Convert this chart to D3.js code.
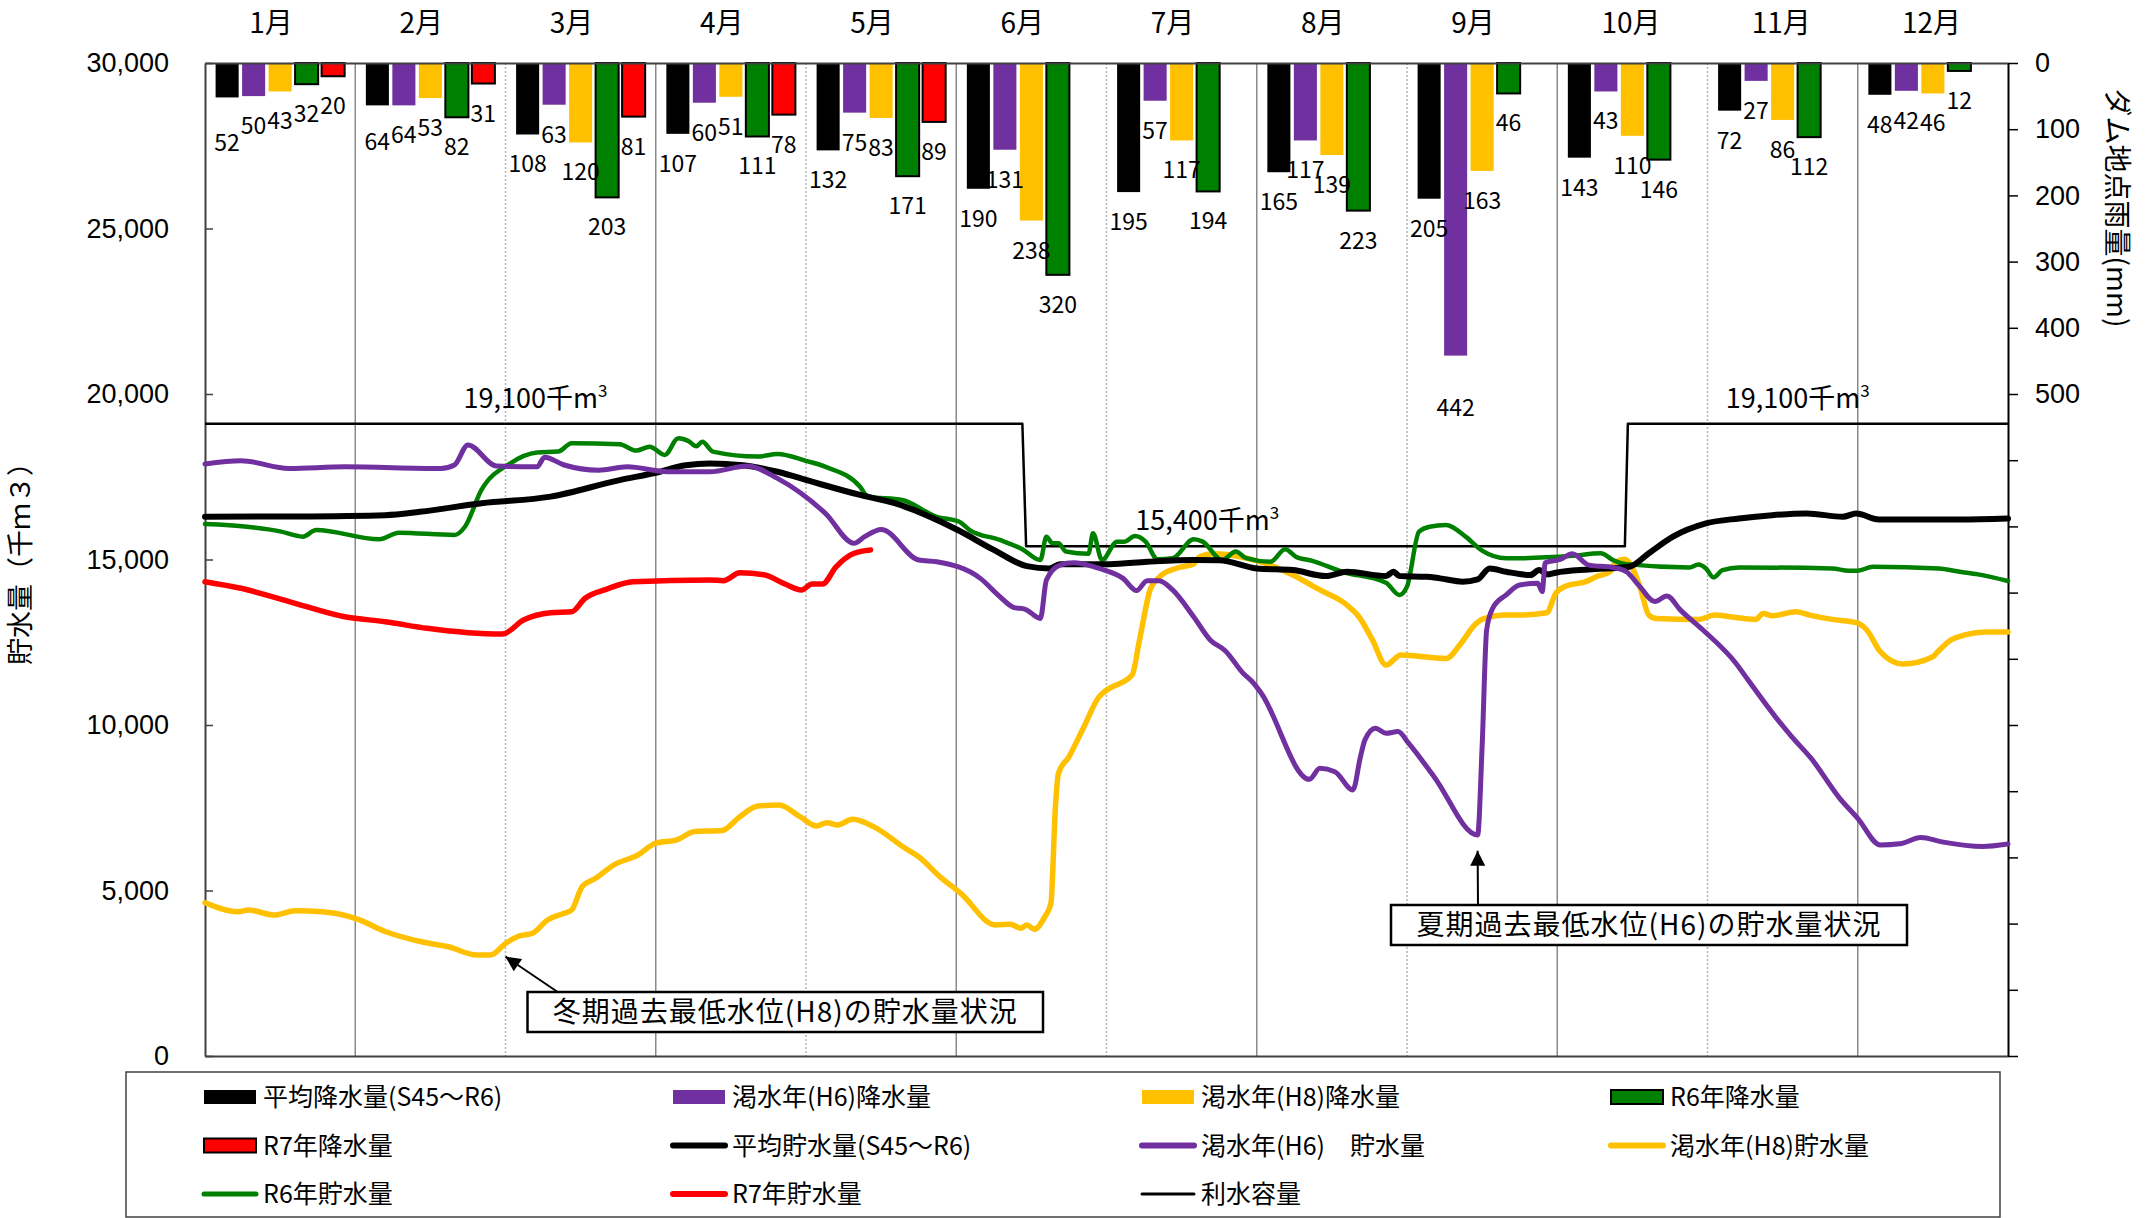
<!DOCTYPE html>
<html><head><meta charset="utf-8">
<script src="https://cdn.jsdelivr.net/npm/d3@7"></script>
<style>
body{margin:0;background:#fff;}
svg{display:block;font-family:"Noto Sans CJK JP","Noto Sans",sans-serif;}
</style></head><body>
<svg id="c" width="2156" height="1218"></svg>
<script>
// ---------------- data ----------------
const months = ["1月","2月","3月","4月","5月","6月","7月","8月","9月","10月","11月","12月"];
const rainNames = ["平均降水量(S45～R6)","渇水年(H6)降水量","渇水年(H8)降水量","R6年降水量","R7年降水量"];
const rainAvg = [52,64,108,107,132,190,195,165,205,143,72,48];
const rainH6  = [50,64,63,60,75,131,57,117,442,43,27,42];
const rainH8  = [43,53,120,51,83,238,117,139,163,110,86,46];
const rainR6  = [32,82,203,111,171,320,194,223,46,146,112,12];
const rainR7  = [20,31,81,78,89,null,null,null,null,null,null,null];

// storage series: [month position (0 = 1 Jan, 12 = 31 Dec), 千m3]
const storAvg = [[0,16290],[0.6,16300],[1.2,16340],[1.43,16440],[1.84,16700],[2.3,16900],[2.76,17400],[3.0,17620],[3.2,17850],[3.36,17900],[3.58,17850],[3.81,17650],[4.04,17350],[4.36,16950],[4.59,16700],[5.01,15890],[5.25,15290],[5.47,14800],[5.62,14730],[5.69,14860],[6.02,14860],[6.27,14930],[6.58,14985],[6.75,14980],[7.0,14730],[7.24,14680],[7.46,14500],[7.6,14630],[7.86,14500],[7.91,14630],[7.95,14500],[8.13,14480],[8.22,14430],[8.37,14330],[8.47,14400],[8.55,14730],[8.66,14630],[8.82,14530],[8.88,14680],[8.94,14550],[8.99,14600],[9.21,14700],[9.48,14780],[9.61,15190],[9.77,15690],[9.99,16090],[10.21,16240],[10.43,16340],[10.66,16390],[10.9,16290],[10.99,16390],[11.14,16210],[11.68,16210],[12,16240]];
const storH6 = [[0,17885],[0.24,17985],[0.56,17750],[0.93,17800],[1.57,17750],[1.66,17855],[1.75,18460],[1.94,17825],[2.21,17800],[2.26,18090],[2.39,17855],[2.62,17700],[2.81,17800],[3.08,17650],[3.36,17650],[3.61,17825],[3.81,17450],[4.13,16390],[4.32,15490],[4.39,15690],[4.5,15910],[4.75,14985],[4.87,14930],[5.16,14430],[5.29,13880],[5.38,13555],[5.46,13495],[5.56,13220],[5.6,14380],[5.69,14830],[5.78,14900],[5.95,14730],[6.11,14430],[6.2,14060],[6.27,14360],[6.35,14360],[6.44,14080],[6.58,13270],[6.69,12570],[6.79,12245],[6.91,11560],[6.98,11260],[7.03,10960],[7.35,8360],[7.42,8690],[7.52,8590],[7.64,8040],[7.69,9040],[7.72,9550],[7.79,9900],[7.86,9750],[7.94,9800],[8.01,9450],[8.18,8440],[8.47,6680],[8.5,9345],[8.53,12870],[8.57,13525],[8.66,13930],[8.75,14230],[8.87,14280],[8.9,14030],[8.92,14900],[9.02,15005],[9.1,15170],[9.21,14830],[9.37,14760],[9.46,14630],[9.55,14180],[9.65,13730],[9.73,13900],[9.82,13470],[9.97,12870],[10.19,11860],[10.27,11360],[10.46,10200],[10.56,9650],[10.69,8990],[10.88,7785],[11.0,7180],[11.15,6375],[11.28,6410],[11.42,6600],[11.56,6470],[11.83,6330],[12,6405]];
const storH8 = [[0,4630],[0.22,4360],[0.29,4410],[0.46,4260],[0.6,4390],[0.78,4360],[1.02,4130],[1.2,3760],[1.44,3450],[1.62,3300],[1.81,3050],[1.9,3050],[2.0,3400],[2.09,3625],[2.18,3710],[2.28,4110],[2.39,4310],[2.44,4410],[2.51,5115],[2.6,5370],[2.72,5770],[2.88,6070],[3.0,6430],[3.14,6530],[3.26,6780],[3.44,6810],[3.56,7230],[3.68,7550],[3.82,7580],[3.96,7230],[4.07,6950],[4.14,7050],[4.21,6980],[4.31,7150],[4.45,6930],[4.66,6275],[4.75,6020],[4.89,5420],[5.03,4915],[5.26,3960],[5.36,3980],[5.43,3860],[5.47,3960],[5.52,3830],[5.59,4210],[5.63,4610],[5.66,7530],[5.68,8540],[5.75,9040],[5.85,9950],[5.95,10850],[6.0,11050],[6.17,11510],[6.22,12570],[6.29,14080],[6.35,14460],[6.46,14730],[6.58,14860],[6.62,15085],[6.71,15170],[6.8,15150],[6.93,15040],[7.09,14830],[7.24,14530],[7.42,14080],[7.6,13625],[7.68,13270],[7.77,12570],[7.86,11810],[7.96,12115],[8.26,12010],[8.36,12470],[8.45,13020],[8.5,13190],[8.66,13320],[8.75,13320],[8.93,13390],[8.99,13980],[9.06,14200],[9.19,14330],[9.26,14480],[9.35,14630],[9.39,14930],[9.45,15005],[9.49,14830],[9.55,14180],[9.61,13320],[9.66,13220],[9.94,13190],[10.05,13320],[10.15,13270],[10.32,13190],[10.37,13370],[10.43,13300],[10.59,13420],[10.68,13320],[10.83,13190],[10.99,13090],[11.06,12870],[11.15,12215],[11.3,11840],[11.5,12060],[11.53,12200],[11.61,12540],[11.72,12730],[11.85,12810],[12,12810]];
const storR6 = [[0,16070],[0.28,15990],[0.5,15850],[0.65,15690],[0.74,15890],[1.16,15610],[1.29,15810],[1.66,15740],[1.73,15990],[1.84,17100],[2.03,17900],[2.21,18230],[2.35,18260],[2.44,18510],[2.76,18480],[2.87,18290],[2.96,18410],[3.06,18160],[3.15,18660],[3.22,18570],[3.27,18420],[3.31,18560],[3.38,18260],[3.68,18110],[3.81,18190],[4.0,17980],[4.13,17800],[4.36,17200],[4.41,16900],[4.64,16800],[4.87,16290],[5.02,16140],[5.09,15890],[5.29,15590],[5.44,15310],[5.56,14985],[5.6,15690],[5.64,15490],[5.68,15490],[5.73,15240],[5.88,15170],[5.91,15790],[5.97,14985],[6.07,15540],[6.12,15540],[6.19,15710],[6.26,15540],[6.34,15005],[6.44,15040],[6.58,15610],[6.64,15540],[6.77,14985],[6.86,15240],[6.93,15040],[7.09,14930],[7.19,15310],[7.26,15085],[7.37,14960],[7.57,14630],[7.86,14300],[7.95,13930],[8.0,14180],[8.08,15840],[8.15,15990],[8.26,16040],[8.39,15690],[8.5,15270],[8.66,15040],[8.75,15040],[9.1,15110],[9.29,15190],[9.37,14985],[9.46,14860],[9.88,14760],[9.94,14850],[9.99,14730],[10.04,14460],[10.1,14680],[10.21,14760],[10.83,14730],[10.94,14660],[11.0,14660],[11.1,14780],[11.54,14730],[11.68,14630],[11.8,14550],[12,14350]];
const storR7 = [[0,14330],[0.24,14130],[0.56,13730],[0.93,13270],[1.2,13120],[1.48,12920],[1.75,12790],[1.98,12750],[2.12,13170],[2.3,13390],[2.44,13420],[2.53,13830],[2.67,14100],[2.85,14330],[3.36,14380],[3.45,14360],[3.56,14600],[3.72,14540],[3.86,14260],[3.97,14080],[4.04,14260],[4.11,14260],[4.2,14780],[4.32,15190],[4.43,15290]];
const capacity = [[0,19100],[5.44,19100],[5.465,15400],[9.45,15400],[9.47,19100],[12,19100]];
const capacityLabels = [{v:19100, t:2.2, text:"19,100"},{v:15400, t:6.67, text:"15,400"},{v:19100, t:10.6, text:"19,100"}];
const storageTicks = [0,5000,10000,15000,20000,25000,30000];
const rainTicks = [0,100,200,300,400,500,600,700,800,900,1000,1100,1200,1300,1400,1500];
const rainLabelMax = 500;

// ---------------- layout / style ----------------
const W = 2156, H = 1218;
const P = {left:205, right:2008, top:63, bottom:1056};
const C = {black:"#000000", purple:"#7030A0", yellow:"#FFC000", green:"#008000", red:"#FF0000", axis:"#404040"};
const rainColors = [C.black, C.purple, C.yellow, C.green, C.red];
const rainOutlined = [false,false,false,true,true];
const rainSeries = [rainAvg, rainH6, rainH8, rainR6, rainR7];

const svg = d3.select("#c");
svg.append("rect").attr("width",W).attr("height",H).attr("fill","#fff");

const x = d3.scaleLinear().domain([0,12]).range([P.left,P.right]);
const yL = d3.scaleLinear().domain([0,30000]).range([P.bottom,P.top]);
const yR = d3.scaleLinear().domain([0,1500]).range([P.top,P.bottom]);
const band = d3.scaleBand().domain(d3.range(5)).range([0, x(1)-x(0)]).paddingInner(0.13).paddingOuter(0.4);

// month grid lines
const grid = svg.append("g");
d3.range(1,12).forEach(i=>{
  grid.append("line").attr("x1",x(i)).attr("x2",x(i)).attr("y1",P.top).attr("y2",P.bottom)
    .attr("stroke", i%2 ? "#8a8a8a" : "#b4b4b4").attr("stroke-width", i%2 ? 1.5 : 1.5)
    .attr("stroke-dasharray", i%2 ? null : "2,2");
});

// bars
const bars = svg.append("g");
const labelNudge = {"0-0":16, "1-0":7, "8-1":22};
rainSeries.forEach((arr,s)=>{
  arr.forEach((v,m)=>{
    if(v==null) return;
    const bx = x(m)+band(s);
    bars.append("rect").attr("x",bx).attr("y",yR(0)).attr("width",band.bandwidth())
      .attr("height",yR(v)-yR(0)).attr("fill",rainColors[s])
      .attr("stroke", rainOutlined[s] ? "#000" : "none").attr("stroke-width",2);
  });
});
// bar labels
const blab = svg.append("g").attr("font-size",23).attr("text-anchor","middle").attr("fill","#000");
rainSeries.forEach((arr,s)=>{
  arr.forEach((v,m)=>{
    if(v==null) return;
    const nd = labelNudge[m+"-"+s]||0;
    blab.append("text").attr("x",x(m)+band(s)+band.bandwidth()/2).attr("y",yR(v)+38+nd).text(v);
  });
});

// axes
const axT = svg.append("g").attr("transform",`translate(0,${P.top})`)
  .call(d3.axisTop(x).tickValues([]).tickSizeOuter(0));
axT.select(".domain").attr("stroke",C.axis).attr("stroke-width",2);
const axB = svg.append("g").attr("transform",`translate(0,${P.bottom})`)
  .call(d3.axisBottom(x).tickValues([]).tickSizeOuter(0));
axB.select(".domain").attr("stroke",C.axis).attr("stroke-width",2);

const axL = svg.append("g").attr("transform",`translate(${P.left},0)`)
  .call(d3.axisLeft(yL).tickValues(storageTicks).tickFormat(d3.format(",")).tickSizeInner(-8).tickSizeOuter(0).tickPadding(36));
axL.select(".domain").attr("stroke",C.axis).attr("stroke-width",2);
axL.selectAll(".tick line").attr("stroke",C.axis).attr("stroke-width",1.5);
axL.selectAll("text").attr("font-size",27).attr("fill","#000").attr("font-family",null);

const axR = svg.append("g").attr("transform",`translate(${P.right},0)`)
  .call(d3.axisRight(yR).tickValues(rainTicks).tickFormat(d=>d<=rainLabelMax? d : "").tickSizeInner(10).tickSizeOuter(0).tickPadding(17));
axR.select(".domain").attr("stroke","#000").attr("stroke-width",2);
axR.selectAll(".tick line").attr("stroke","#000").attr("stroke-width",1.5);
axR.selectAll("text").attr("font-size",27).attr("fill","#000").attr("font-family",null);

// month labels
svg.append("g").attr("font-size",28).selectAll("text").data(months).join("text")
  .attr("x",(d,i)=>x(i+0.5)-31).attr("y",33).text(d=>d);

// axis titles
svg.append("text").attr("transform","translate(30,557) rotate(-90)").attr("text-anchor","middle")
  .attr("font-size",27).text("貯水量（千ｍ３）");
svg.append("text").attr("transform","translate(2107,208) rotate(90)").attr("text-anchor","middle")
  .attr("font-size",28).text("ダム地点雨量(mm)");

// lines
const line = d3.line().x(d=>x(d[0])).y(d=>yL(d[1])).curve(d3.curveMonotoneX);
const lines = svg.append("g").attr("fill","none").attr("stroke-linejoin","round").attr("stroke-linecap","round");
lines.append("path").datum(capacity).attr("d",d3.line().x(d=>x(d[0])).y(d=>yL(d[1])))
  .attr("stroke","#000").attr("stroke-width",2.5).attr("stroke-linecap","butt");
[[storH8,C.yellow,5.5],[storR6,C.green,4.5],[storR7,C.red,5.5],[storAvg,C.black,6],[storH6,C.purple,5]].forEach(([d,c,w])=>{
  lines.append("path").datum(d).attr("d",line).attr("stroke",c).attr("stroke-width",w);
});

// capacity labels
capacityLabels.forEach(c=>{
  const t = svg.append("text").attr("x",x(c.t)).attr("y",yL(c.v)-16).attr("text-anchor","middle").attr("font-size",27);
  t.append("tspan").text(c.text+"千m");
  t.append("tspan").attr("font-size",17).attr("dy",-11).text("3");
});

// annotations
const defs = svg.append("defs");
defs.append("marker").attr("id","arr").attr("viewBox","0 0 10 10").attr("refX",10).attr("refY",5)
  .attr("markerWidth",24).attr("markerHeight",15).attr("markerUnits","userSpaceOnUse").attr("orient","auto")
  .append("path").attr("d","M0,0 L10,5 L0,10 z").attr("fill","#000");
const notes = [
  {text:"冬期過去最低水位(H8)の貯水量状況", tip:[2.0,3000], from:[557.7,992], box:[527.5,992,515.5,40]},
  {text:"夏期過去最低水位(H6)の貯水量状況", tip:[8.47,6200], from:[1478,905], box:[1391,905,516,40]}
];
notes.forEach(n=>{
  svg.append("line").attr("x1",n.from[0]).attr("y1",n.from[1]).attr("x2",x(n.tip[0])).attr("y2",yL(n.tip[1]))
    .attr("stroke","#000").attr("stroke-width",2).attr("marker-end","url(#arr)");
  svg.append("rect").attr("x",n.box[0]).attr("y",n.box[1]).attr("width",n.box[2]).attr("height",n.box[3])
    .attr("fill","#fff").attr("stroke","#000").attr("stroke-width",2.5);
  svg.append("text").attr("x",n.box[0]+n.box[2]/2).attr("y",n.box[1]+n.box[3]/2).attr("dy","0.36em")
    .attr("text-anchor","middle").attr("font-size",28).attr("letter-spacing",1).text(n.text);
});

// legend
const legendItems = [
  {label:rainNames[0], type:"bar", color:C.black},
  {label:rainNames[1], type:"bar", color:C.purple},
  {label:rainNames[2], type:"bar", color:C.yellow},
  {label:rainNames[3], type:"bar", color:C.green, outline:true},
  {label:rainNames[4], type:"bar", color:C.red, outline:true},
  {label:"平均貯水量(S45～R6)", type:"line", color:C.black, w:6},
  {label:"渇水年(H6)　貯水量", type:"line", color:C.purple, w:6},
  {label:"渇水年(H8)貯水量", type:"line", color:C.yellow, w:6},
  {label:"R6年貯水量", type:"line", color:C.green, w:5},
  {label:"R7年貯水量", type:"line", color:C.red, w:6},
  {label:"利水容量", type:"line", color:C.black, w:3}
];
const lg = svg.append("g");
lg.append("rect").attr("x",126).attr("y",1072).attr("width",1874).attr("height",145)
  .attr("fill","#fff").attr("stroke",C.axis).attr("stroke-width",1.5);
legendItems.forEach((it,i)=>{
  const cx = 204 + (i%4)*469, cy = 1097 + Math.floor(i/4)*48.5;
  if(it.type==="bar"){
    lg.append("rect").attr("x",cx).attr("y",cy-7).attr("width",52).attr("height",14).attr("fill",it.color)
      .attr("stroke",it.outline?"#000":"none").attr("stroke-width",2);
  } else {
    lg.append("line").attr("x1",cx).attr("x2",cx+52).attr("y1",cy).attr("y2",cy)
      .attr("stroke",it.color).attr("stroke-width",it.w).attr("stroke-linecap","round");
  }
  lg.append("text").attr("x",cx+59).attr("y",cy).attr("dy","0.36em").attr("font-size",25).text(it.label);
});
</script></body></html>
